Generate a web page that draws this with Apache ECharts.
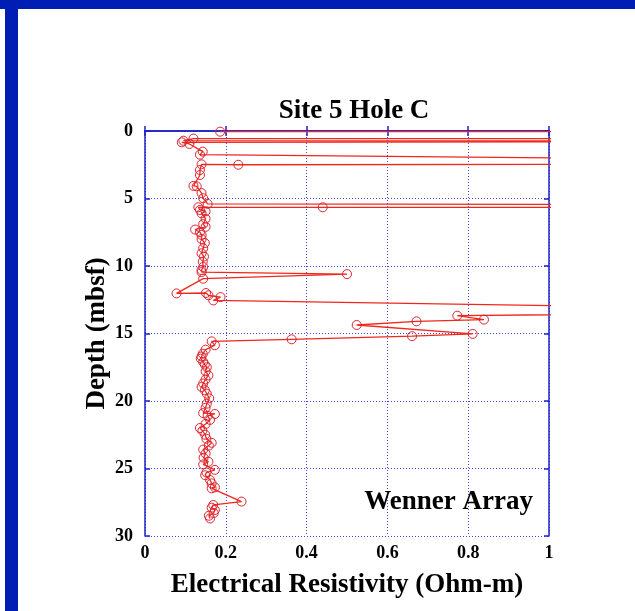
<!DOCTYPE html>
<html>
<head>
<meta charset="utf-8">
<title>Site 5 Hole C</title>
<script src="https://cdn.jsdelivr.net/npm/echarts@6/dist/echarts.min.js"></script>
<style>
  html, body { margin: 0; padding: 0; background: #ffffff; }
  #chart { width: 635px; height: 611px; }
</style>
</head>
<body>
<div id="chart"></div>
<script>
// Wenner array log, Site 5 Hole C: depth (mbsf) and resistivity (Ohm-m), in logging order.
// Readings above 1 Ohm-m run off the right edge of the plot and are clipped.
const depth = [
  0.05, 0.06, 0.57, 0.56, 0.72, 0.74, 0.76, 0.84, 0.96, 1.53, 1.75, 2.40, 2.48, 2.50, 2.47,
  2.89, 3.26, 4.07, 4.10, 4.60, 4.98, 5.40, 5.50, 5.66, 5.65, 5.65, 5.85, 5.95, 6.10, 6.50,
  6.90, 7.10, 7.30, 7.50, 7.70, 8.00, 8.30, 8.69, 9.06, 9.30, 9.68, 10.07, 10.30, 10.45, 10.60,
  10.94, 12.03, 12.00, 12.17, 12.30, 12.55, 13.35, 13.68, 13.97, 14.10, 14.37, 15.03, 15.20, 15.43,
  15.58, 15.87, 16.20, 16.50, 16.70, 16.86, 17.10, 17.30, 17.50, 17.80, 18.10, 18.40, 18.70, 18.96,
  19.20, 19.46, 19.80, 20.20, 20.50, 20.90, 20.96, 21.10, 21.40, 21.70, 22.00, 22.20, 22.50, 22.80,
  23.10, 23.30, 23.60, 23.90, 24.20, 24.50, 24.70, 25.10, 25.30, 25.50, 25.85, 26.10, 26.40, 26.47,
  27.45, 27.70, 27.90, 28.07, 28.30, 28.50, 28.70
];
const resistivity = [
  0.186, 2.5, 2.5, 0.120, 0.095, 2.5, 2.5, 0.091, 0.110, 0.143, 0.136, 2.5, 2.5, 0.231, 0.140,
  0.136, 0.136, 0.120, 0.128, 0.140, 0.144, 0.155, 2.5, 2.5, 0.440, 0.132, 0.136, 0.150, 0.140, 0.150,
  0.144, 0.150, 0.124, 0.136, 0.140, 0.140, 0.148, 0.144, 0.140, 0.146, 0.143, 0.144, 0.140, 0.140, 0.500,
  0.144, 0.078, 0.151, 0.157, 0.187, 0.169, 1.9, 0.773, 0.839, 0.672, 0.524, 0.811, 0.661, 0.363,
  0.165, 0.173, 0.150, 0.143, 0.140, 0.138, 0.144, 0.148, 0.153, 0.150, 0.157, 0.150, 0.144, 0.140,
  0.148, 0.153, 0.159, 0.153, 0.150, 0.144, 0.173, 0.155, 0.161, 0.150, 0.136, 0.142, 0.149, 0.152,
  0.165, 0.158, 0.144, 0.150, 0.145, 0.157, 0.144, 0.173, 0.152, 0.149, 0.161, 0.165, 0.173, 0.165,
  0.239, 0.169, 0.165, 0.173, 0.170, 0.158, 0.161
];
const xTicks = [0, 0.2, 0.4, 0.6, 0.8, 1];
const yTicks = [0, 5, 10, 15, 20, 25, 30];

const chartTitle = 'Site 5 Hole C';
const xName = 'Electrical Resistivity (Ohm-m)';
const yName = 'Depth (mbsf)';
const arrayLabel = 'Wenner Array';

const points = depth.map((d, i) => [resistivity[i], d]);

const serif = '"Liberation Serif", "Times New Roman", serif';
const frameBlue = '#1c22c8';
const gridBlue = '#3a44e0';
const red = '#f0281c';

const chart = echarts.init(document.getElementById('chart'), null, { renderer: 'canvas' });

const grid = { left: 145, top: 131, width: 404, height: 405, containLabel: false };

const baseAxisLine = { show: true, lineStyle: { color: frameBlue, width: 1.5 } };
const baseTick = { show: true, inside: true, length: 5, lineStyle: { color: frameBlue, width: 1.5 } };
const labelStyle = { color: '#000', fontFamily: serif, fontWeight: 'bold', fontSize: 18 };
const nameStyle = { fontFamily: serif, fontWeight: 'bold', fontSize: 27, color: '#000' };

chart.setOption({
  animation: false,
  backgroundColor: '#ffffff',
  title: {
    text: chartTitle,
    left: 349, top: 93, textAlign: 'center',
    textStyle: nameStyle
  },
  grid: grid,
  xAxis: [
    {
      type: 'value', position: 'bottom', min: xTicks[0], max: xTicks[xTicks.length - 1], interval: 0.2,
      name: xName, nameLocation: 'middle', nameGap: 36,
      nameTextStyle: nameStyle,
      axisLine: baseAxisLine, axisTick: baseTick,
      axisLabel: Object.assign({ margin: 8 }, labelStyle),
      splitLine: { show: true, lineStyle: { color: gridBlue, width: 1, type: [1, 2] } }
    },
    {
      type: 'value', position: 'top', min: xTicks[0], max: xTicks[xTicks.length - 1], interval: 0.2,
      axisLine: baseAxisLine, axisTick: baseTick, axisLabel: { show: false }, splitLine: { show: false }
    }
  ],
  yAxis: [
    {
      type: 'value', position: 'left', inverse: true, min: yTicks[0], max: yTicks[yTicks.length - 1], interval: 5,
      name: yName, nameLocation: 'middle', nameGap: 34, nameRotate: 90, nameMoveOverlap: false,
      nameTextStyle: nameStyle,
      axisLine: Object.assign({ onZero: false }, baseAxisLine), axisTick: baseTick,
      axisLabel: Object.assign({ margin: 12 }, labelStyle),
      splitLine: { show: true, lineStyle: { color: gridBlue, width: 1, type: [1, 2] } }
    },
    {
      type: 'value', position: 'right', inverse: true, min: yTicks[0], max: yTicks[yTicks.length - 1], interval: 5,
      axisLine: Object.assign({ onZero: false }, baseAxisLine), axisTick: baseTick,
      axisLabel: { show: false }, splitLine: { show: false }
    }
  ],
  series: [
    {
      type: 'line',
      xAxisIndex: 0, yAxisIndex: 0,
      data: points,
      clip: true,
      symbol: 'circle',
      symbolSize: 9,
      showAllSymbol: true,
      lineStyle: { color: red, width: 1.3 },
      itemStyle: { color: 'rgba(255,255,255,0)', borderColor: '#dc2430', borderWidth: 1 },
      z: 3
    }
  ],
  graphic: [
    { type: 'rect', left: 0, top: 0, shape: { width: 635, height: 9 }, style: { fill: '#001eb4' }, silent: true },
    { type: 'rect', left: 5, top: 9, shape: { width: 13, height: 602 }, style: { fill: '#001eb4' }, silent: true },
    {
      type: 'text', right: 102, top: 489, z: 10,
      style: { text: arrayLabel, font: 'bold 27px ' + serif, fill: '#000', textAlign: 'right' }
    }
  ]
});
</script>
</body>
</html>
